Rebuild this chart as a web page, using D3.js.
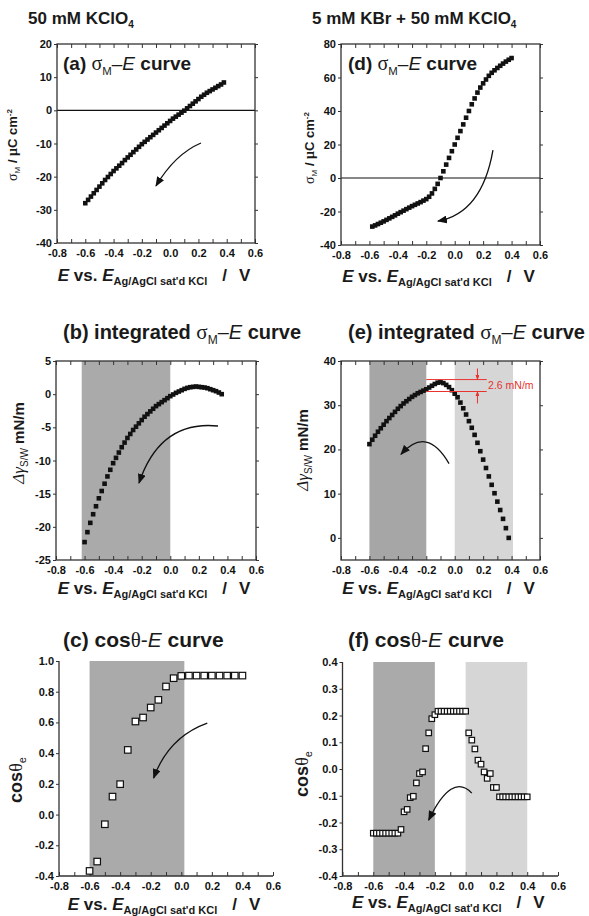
<!DOCTYPE html>
<html>
<head>
<meta charset="utf-8">
<script src="https://cdn.jsdelivr.net/npm/d3@7"></script>
<style>
body { margin: 0; background: #fff; }
svg { display: block; font-family: "Liberation Sans", Arial, sans-serif; }
text { white-space: pre; fill: #1a1a1a; }
.tick text { font-weight: bold; font-size: 11px; fill: #111; }
</style>
</head>
<body>
<svg id="fig" width="589" height="916"></svg>
<script>
// potential grid (V) used by the dense data sets
var potentials = [-0.60,-0.58,-0.56,-0.54,-0.52,-0.50,-0.48,-0.46,-0.44,-0.42,-0.40,-0.38,-0.36,-0.34,-0.32,-0.30,
  -0.28,-0.26,-0.24,-0.22,-0.20,-0.18,-0.16,-0.14,-0.12,-0.10,-0.08,-0.06,-0.04,-0.02,0.00,
  0.02,0.04,0.06,0.08,0.10,0.12,0.14,0.16,0.18,0.20,0.22,0.24,0.26,0.28,0.30,0.32,0.34,0.36,0.38,0.40];

// (a) sigma_M, 50 mM KClO4, -0.60..0.38 V
var sigmaA = [-28.0,-27.0,-26.0,-25.0,-24.0,-23.0,-22.0,-21.0,-20.1,-19.2,-18.3,-17.5,-16.7,-15.9,-15.0,-14.2,
  -13.4,-12.6,-11.8,-11.0,-10.2,-9.5,-8.8,-8.1,-7.4,-6.7,-6.0,-5.3,-4.6,-3.9,-3.2,
  -2.5,-1.9,-1.3,-0.7,-0.1,0.6,1.3,2.0,2.7,3.4,4.1,4.7,5.3,5.8,6.3,6.8,7.3,7.8,8.4];

// (b) integrated, -0.60..0.36 V
var gammaB = [-22.3,-20.8,-19.4,-18.1,-16.9,-15.7,-14.6,-13.5,-12.4,-11.4,-10.4,-9.6,-8.8,-8.0,-7.3,-6.6,
  -6.0,-5.4,-4.9,-4.4,-3.9,-3.4,-3.0,-2.6,-2.2,-1.8,-1.5,-1.2,-0.9,-0.6,-0.3,
  -0.05,0.2,0.4,0.6,0.8,0.95,1.05,1.1,1.15,1.1,1.05,1.0,0.9,0.75,0.6,0.45,0.25,0.0];

// (c) cos theta, 50 mM KClO4
var cosC_E = [-0.60,-0.55,-0.50,-0.45,-0.40,-0.35,-0.30,-0.25,-0.20,-0.15,-0.10,-0.05,0.00,
  0.05,0.10,0.15,0.20,0.25,0.30,0.35,0.40];
var cosC = [-0.367,-0.306,-0.063,0.117,0.198,0.421,0.606,0.632,0.697,0.747,0.834,0.888,0.903,
  0.905,0.905,0.905,0.905,0.905,0.905,0.905,0.905];

// (d) sigma_M, 5 mM KBr + 50 mM KClO4, -0.58..0.40 V
var sigmaD = [-29.0,-28.3,-27.5,-26.7,-25.9,-25.0,-24.1,-23.2,-22.3,-21.3,-20.4,-19.5,-18.6,-17.7,-16.8,
  -16.0,-15.2,-14.4,-13.5,-12.6,-11.2,-9.2,-6.5,-3.5,0.0,4.0,8.0,12.0,16.0,20.0,
  24.0,28.0,32.0,36.0,40.0,44.0,47.5,51.0,54.0,56.5,58.8,61.0,62.8,64.3,65.7,67.0,68.3,69.5,70.6,71.6];

// (e) integrated, -0.60..0.38 V
var gammaE = [21.2,22.2,23.1,24.0,24.8,25.6,26.4,27.1,27.8,28.5,29.2,29.8,30.4,30.9,31.4,31.9,
  32.3,32.7,33.0,33.3,33.6,34.0,34.4,34.8,35.1,35.2,35.0,34.6,34.1,33.4,32.6,
  31.8,30.6,29.3,27.9,26.4,24.9,23.3,21.5,19.6,17.7,15.8,13.9,12.0,10.1,8.2,6.3,4.3,2.2,0.0];
var gapLevels = [33.1, 35.8];

// (f) cos theta, -0.60..0.40 V
var cosF = [-0.24,-0.24,-0.24,-0.24,-0.24,-0.24,-0.24,-0.24,-0.24,-0.226,-0.16,-0.151,-0.107,-0.102,-0.052,
  -0.017,-0.011,0.076,0.135,0.188,0.203,
  0.216,0.216,0.216,0.216,0.216,0.216,0.216,0.216,0.216,0.216,
  0.135,0.108,0.075,0.033,0.018,-0.011,-0.035,-0.017,-0.069,-0.069,
  -0.104,-0.104,-0.104,-0.104,-0.104,-0.104,-0.104,-0.104,-0.104,-0.104];

// ticks
var xMajor = [-0.8,-0.6,-0.4,-0.2,0.0,0.2,0.4,0.6];
var xMinor = [-0.8,-0.7,-0.6,-0.5,-0.4,-0.3,-0.2,-0.1,0.0,0.1,0.2,0.3,0.4,0.5,0.6];
var yTicksA = [-40,-30,-20,-10,0,10,20];
var yTicksB = [-25,-20,-15,-10,-5,0,5];
var yTicksC = [-0.4,-0.2,0.0,0.2,0.4,0.6,0.8,1.0];
var yTicksD = [-40,-20,0,20,40,60,80];
var yTicksE = [0,10,20,30,40];
var yTicksF = [-0.4,-0.3,-0.2,-0.1,0.0,0.1,0.2,0.3,0.4];

// shaded potential windows
var shadeB = [[-0.62, 0.0]];
var shadeC = [[-0.6, 0.02]];
var shadeE = [[-0.6, -0.2], [0.0, 0.41]];
var shadeF = [[-0.6, -0.2], [0.0, 0.4]];

var SERIF = "'Liberation Serif','Times New Roman',serif";
var DARK = "#aaaaaa", LIGHT = "#d6d6d6", RED = "#e8322e";

var svg = d3.select("#fig");
svg.append("rect").attr("width", 589).attr("height", 916).attr("fill", "#fff");
var defs = svg.append("defs");

function addMarker(id, color, len, wid) {
  defs.append("marker").attr("id", id)
    .attr("viewBox", "0 0 10 10").attr("refX", 9).attr("refY", 5)
    .attr("markerUnits", "userSpaceOnUse")
    .attr("markerWidth", len).attr("markerHeight", wid)
    .attr("preserveAspectRatio", "none")
    .attr("orient", "auto")
    .append("path").attr("d", "M0,0L10,5L0,10Z").attr("fill", color);
}
addMarker("ah", "#111", 10, 8);
addMarker("ahr", RED, 5, 4);

function rich(sel, parts) {
  var cur = 0;
  parts.forEach(function(q) {
    var off = q.off || 0;
    var ts = sel.append("tspan").text(q.t)
      .attr("font-size", q.s)
      .attr("font-weight", q.b ? "bold" : "normal")
      .attr("font-style", q.i ? "italic" : "normal");
    if (q.f) ts.attr("font-family", q.f);
    if (off !== cur) ts.attr("dy", off - cur);
    if (q.dx) ts.attr("dx", q.dx);
    cur = off;
  });
  return sel;
}

function sigmaTitle(tag, s, word) {
  var p = [{t: tag + " ", b: 1, s: s}];
  if (word) p.push({t: word + " ", b: 1, s: s});
  return p.concat([
    {t: "σ", f: SERIF, s: s + 1},
    {t: "M", s: s * 0.6, off: s * 0.25},
    {t: "–", s: s, off: 0},
    {t: "E", i: 1, s: s},
    {t: " curve", b: 1, s: s}
  ]);
}
function cosTitle(tag) {
  return [{t: tag + " cos", b: 1, s: 21}, {t: "θ", f: SERIF, s: 21}, {t: "-", s: 21},
          {t: "E", i: 1, s: 21}, {t: " curve", b: 1, s: 21}];
}
var sigmaLabel = [{t: "σ", f: SERIF, s: 14}, {t: "M", s: 8, off: 3}, {t: " / ", b: 1, s: 13, off: 0},
  {t: "μ", b: 1, f: SERIF, s: 14}, {t: "C cm", b: 1, s: 13}, {t: "-2", b: 1, s: 8, off: -5}];
var gammaLabel = [{t: "Δγ", i: 1, f: SERIF, s: 17}, {t: "S/W", s: 10, off: 4}, {t: " mN/m", b: 1, s: 15, off: 0}];
var cosLabel = [{t: "cos", b: 1, s: 18}, {t: "θ", f: SERIF, s: 18}, {t: "e", s: 11, off: 4}];
var xLabel = [{t: "E", b: 1, i: 1, s: 17}, {t: " vs. ", b: 1, s: 17}, {t: "E", b: 1, i: 1, s: 17},
  {t: "Ag/AgCl sat'd KCl", b: 1, s: 11, off: 4}, {t: "/", b: 1, s: 17, off: 0, dx: 15}, {t: "V", b: 1, s: 17, dx: 12}];

var fmt1 = function(d) { return (Math.abs(d) < 1e-9 ? 0 : d).toFixed(1); };

var panels = [
  {l: 57, r: 255, t: 44, b: 243, yDom: [-40, 20], yTicks: yTicksA, yFmt: String,
   xs: potentials.slice(0, 50), ys: sigmaA, box: true, zero: true, shades: [],
   arrow: [[0.218, -9.85], [0.034, -13.2], [-0.1, -22.8]],
   title: {x: 63, y: 70, parts: sigmaTitle("(a)", 19)},
   ylab: {x: 17, y: 145, parts: sigmaLabel}, xlabY: 281},
  {l: 56, r: 256, t: 361, b: 560, yDom: [-25, 5], yTicks: yTicksB, yFmt: String,
   xs: potentials.slice(0, 49), ys: gammaB, box: true, shades: shadeB.map(function(s) { return s.concat(DARK); }),
   arrow: [[0.334, -4.8], [-0.072, -3.9], [-0.219, -13.4]],
   title: {x: 63, y: 339, parts: sigmaTitle("(b)", 20, "integrated")},
   ylab: {x: 24, y: 443, parts: gammaLabel}, xlabY: 594},
  {l: 59, r: 273, t: 661, b: 876, yDom: [-0.4, 1.0], yTicks: yTicksC, yFmt: fmt1,
   xs: cosC_E, ys: cosC, open: true, mk: 6.5, shades: shadeC.map(function(s) { return s.concat(DARK); }),
   arrow: [[0.17, 0.596], [-0.084, 0.505], [-0.181, 0.238]],
   title: {x: 63, y: 647, parts: cosTitle("(c)")},
   ylab: {x: 22, y: 780, parts: cosLabel}, xlabY: 910},
  {l: 341, r: 540, t: 44, b: 245, yDom: [-40, 80], yTicks: yTicksD, yFmt: String,
   xs: potentials.slice(1, 51), ys: sigmaD, box: true, zero: true, shades: [],
   arrow: [[0.269, 16.7], [0.192, -20.9], [-0.118, -25.7]],
   title: {x: 348, y: 70, parts: sigmaTitle("(d)", 19)},
   ylab: {x: 314, y: 148, parts: sigmaLabel}, xlabY: 282},
  {l: 341, r: 540, t: 361, b: 560, yDom: [-5, 40], yTicks: yTicksE, yFmt: String,
   xs: potentials.slice(0, 50), ys: gammaE, box: true,
   shades: [shadeE[0].concat("#a6a6a6"), shadeE[1].concat(LIGHT)],
   arrow: [[-0.04, 16.8], [-0.195, 25.5], [-0.378, 18.9]],
   gap: true,
   title: {x: 348, y: 339, parts: sigmaTitle("(e)", 20, "integrated")},
   ylab: {x: 308, y: 450, parts: gammaLabel}, xlabY: 594},
  {l: 342.5, r: 558, t: 662, b: 876, yDom: [-0.4, 0.4], yTicks: yTicksF, yFmt: fmt1,
   xs: potentials, ys: cosF, open: true, mk: 5.5,
   shades: [shadeF[0].concat(DARK), shadeF[1].concat(LIGHT)],
   arrow: [[0.04, -0.09], [-0.09, -0.011], [-0.24, -0.191]],
   title: {x: 348, y: 647, parts: cosTitle("(f)")},
   ylab: {x: 308, y: 774, parts: cosLabel}, xlabY: 908}
];

function styleAxis(g) {
  g.select(".domain").remove();
  g.selectAll(".tick line").attr("stroke", "#333").attr("stroke-width", 1);
}

function drawPanel(p) {
  var x = d3.scaleLinear().domain([-0.8, 0.6]).range([p.l, p.r]);
  var y = d3.scaleLinear().domain(p.yDom).range([p.b, p.t]);
  var g = svg.append("g");

  p.shades.forEach(function(s) {
    g.append("rect").attr("x", x(s[0])).attr("width", x(s[1]) - x(s[0]))
      .attr("y", p.t).attr("height", p.b - p.t).attr("fill", s[2]);
  });

  if (p.zero) {
    g.append("line").attr("x1", p.l).attr("x2", p.r).attr("y1", y(0)).attr("y2", y(0))
      .attr("stroke", "#111").attr("stroke-width", 1.1);
  }

  // axes
  g.append("g").attr("transform", "translate(0," + p.b + ")")
    .call(d3.axisBottom(x).tickValues(xMinor).tickSize(-4).tickFormat(""))
    .call(styleAxis);
  g.append("g").attr("transform", "translate(0," + p.b + ")")
    .call(d3.axisBottom(x).tickValues(xMajor).tickSize(0).tickPadding(6).tickFormat(fmt1))
    .call(styleAxis);
  g.append("g").attr("transform", "translate(" + p.l + ",0)")
    .call(d3.axisLeft(y).tickValues(p.yTicks).tickSize(3).tickPadding(2).tickFormat(p.yFmt))
    .call(styleAxis);
  if (p.box) {
    g.append("g").attr("transform", "translate(0," + p.t + ")")
      .call(d3.axisTop(x).tickValues(xMinor).tickSize(-4).tickFormat(""))
      .call(styleAxis);
    g.append("g").attr("transform", "translate(" + p.r + ",0)")
      .call(d3.axisRight(y).tickValues(p.yTicks).tickSize(3).tickFormat(""))
      .call(styleAxis);
    g.append("rect").attr("x", p.l).attr("y", p.t).attr("width", p.r - p.l).attr("height", p.b - p.t)
      .attr("fill", "none").attr("stroke", "#333").attr("stroke-width", 1.3);
  } else {
    g.append("path").attr("d", "M" + p.l + "," + p.t + "V" + p.b + "H" + p.r)
      .attr("fill", "none").attr("stroke", "#333").attr("stroke-width", 1.3);
  }

  // data
  var pts = d3.zip(p.xs, p.ys);
  if (p.open) {
    g.selectAll(null).data(pts).join("rect")
      .attr("x", function(d) { return x(d[0]) - p.mk / 2; })
      .attr("y", function(d) { return y(d[1]) - p.mk / 2; })
      .attr("width", p.mk).attr("height", p.mk)
      .attr("fill", "#fff").attr("stroke", "#111").attr("stroke-width", 1.2);
  } else {
    var s = 4.6;
    g.selectAll(null).data(pts).join("rect")
      .attr("x", function(d) { return x(d[0]) - s / 2; })
      .attr("y", function(d) { return y(d[1]) - s / 2; })
      .attr("width", s).attr("height", s).attr("fill", "#111");
  }

  // curved arrow
  var a = p.arrow;
  g.append("path")
    .attr("d", "M" + x(a[0][0]) + "," + y(a[0][1]) + "Q" + x(a[1][0]) + "," + y(a[1][1]) +
               " " + x(a[2][0]) + "," + y(a[2][1]))
    .attr("fill", "none").attr("stroke", "#111").attr("stroke-width", 1.3)
    .attr("marker-end", "url(#ah)");

  if (p.gap) {
    gapLevels.forEach(function(v) {
      g.append("line").attr("x1", x(-0.2)).attr("x2", x(0.225)).attr("y1", y(v)).attr("y2", y(v))
        .attr("stroke", RED).attr("stroke-width", 1);
    });
    g.append("line").attr("x1", x(0.16)).attr("x2", x(0.16)).attr("y1", y(38.3)).attr("y2", y(gapLevels[1]))
      .attr("stroke", RED).attr("stroke-width", 1).attr("marker-end", "url(#ahr)");
    g.append("line").attr("x1", x(0.16)).attr("x2", x(0.16)).attr("y1", y(30.4)).attr("y2", y(gapLevels[0]))
      .attr("stroke", RED).attr("stroke-width", 1).attr("marker-end", "url(#ahr)");
    g.append("text").attr("x", x(0.235)).attr("y", y((gapLevels[0] + gapLevels[1]) / 2) + 3.5)
      .attr("font-size", 10.5).style("fill", RED).text("2.6 mN/m");
  }

  rich(g.append("text").attr("x", p.title.x).attr("y", p.title.y), p.title.parts);
  rich(g.append("text").attr("text-anchor", "middle")
    .attr("transform", "translate(" + p.ylab.x + "," + p.ylab.y + ") rotate(-90)"), p.ylab.parts);
  rich(g.append("text").attr("text-anchor", "middle")
    .attr("x", (p.l + p.r) / 2 - 2).attr("y", p.xlabY), xLabel);
}

panels.forEach(drawPanel);

// column headers
rich(svg.append("text").attr("x", 28).attr("y", 24),
  [{t: "50 mM KClO", b: 1, s: 17}, {t: "4", b: 1, s: 10, off: 4}]);
rich(svg.append("text").attr("x", 312).attr("y", 24),
  [{t: "5 mM KBr + 50 mM KClO", b: 1, s: 17}, {t: "4", b: 1, s: 10, off: 4}]);
</script>
</body>
</html>
